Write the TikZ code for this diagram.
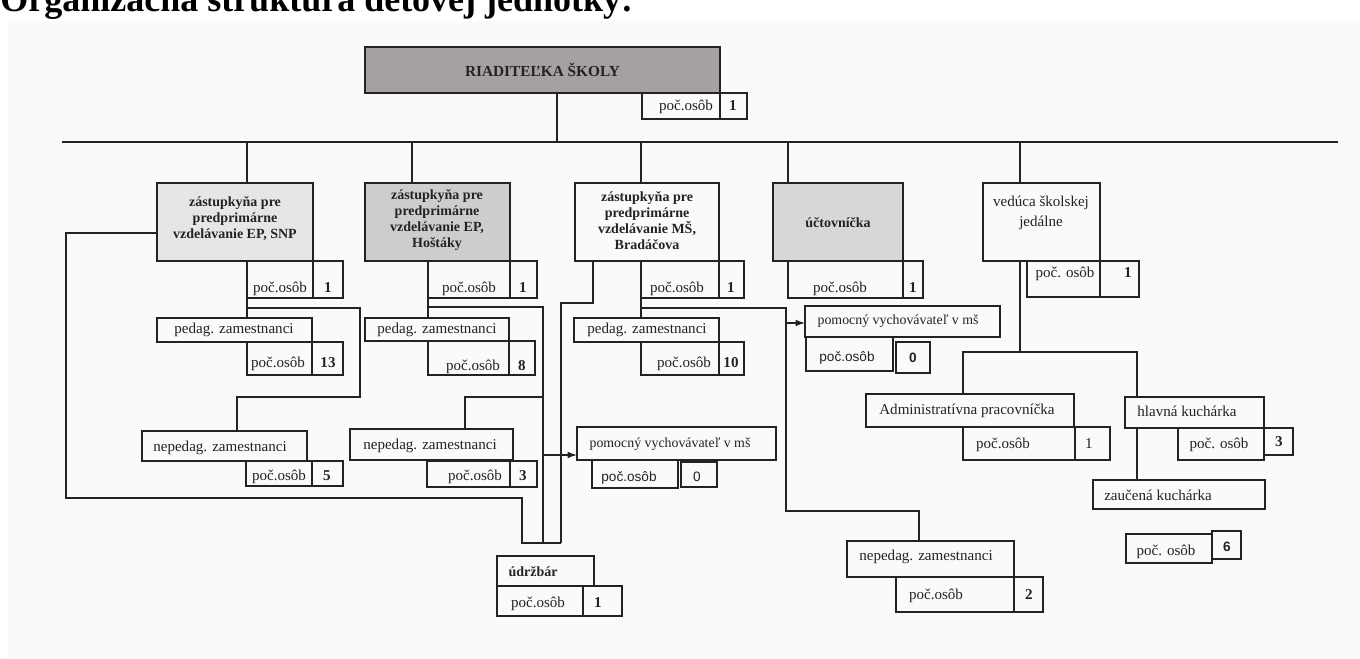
\documentclass[tikz,border=0pt]{standalone}
\usepackage{fontspec}
\setmainfont{Liberation Serif}
\newfontfamily\sansf{Liberation Sans}
\usetikzlibrary{arrows.meta}
\definecolor{ln}{RGB}{35,35,35}
\definecolor{dirg}{RGB}{165,160,162}
\definecolor{epg}{RGB}{230,230,230}
\definecolor{hosg}{RGB}{205,205,205}
\definecolor{uctg}{RGB}{215,215,215}
\definecolor{bgc}{RGB}{250,250,252}
\newcommand\rg{\fontsize{11.3}{13.5}\selectfont}
\newcommand\bd{\fontsize{10.5}{12}\selectfont\bfseries}
\newcommand\sm{\fontsize{10.2}{12}\selectfont\sansf}
\newcommand\rect[6][]{\node[rb,#1,minimum width={(#5-#3)*0.75pt},minimum height={(#6-#4)*0.75pt}] (#2) at ({(#3+#5)/2},{(#4+#6)/2}) {};}
\begin{document}
\begin{tikzpicture}[x=0.75pt,y=-0.75pt,
  rb/.style={draw=ln,line width=0.9pt,inner sep=0pt,outer sep=0pt},
  tx/.style={inner sep=0pt,anchor=base,font=\rg,text=ln},
  nb/.style={inner sep=0pt,anchor=base,font=\rg\bfseries,text=ln},
  st/.style={inner sep=0pt,anchor=base,font=\sm,text=ln},
  mt/.style={inner sep=0pt,anchor=center,align=center,font=\bd,text=ln},
  cn/.style={draw=ln,line width=0.9pt},
  ar/.style={draw=ln,line width=0.9pt,-{Latex[length=7pt,width=5pt]}}]
\useasboundingbox (0,0) rectangle (1360,659);
\clip (0,0) rectangle (1360,659);
\fill[bgc] (8,21) rectangle (1360,659);
\node[anchor=base west,inner sep=0pt,font=\fontsize{27}{27}\selectfont\bfseries] (title) at (0,12) {Organizačná štruktúra detovej jednotky:};

% director
\rect[fill=dirg]{dir}{365}{47}{720}{93}
\node[mt,font=\fontsize{11.5}{13}\selectfont\bfseries] (dir-t) at (dir.center) {RIADITEĽKA ŠKOLY};
\rect{dirL}{642}{93}{720}{119}
\rect{dirN}{720}{93}{747}{119}
\node[tx] (dirL-t) at (686,111) {poč.osôb};
\node[nb] (dirN-t) at (733,111) {1};

% row 1
\rect[fill=epg]{ep}{157}{183}{313}{261}
\node[mt] (ep-t) at (235,219) {zástupkyňa pre\\predprimárne\\vzdelávanie EP, SNP};
\rect[fill=hosg]{hos}{365}{183}{510}{261}
\node[mt] (hos-t) at (437,220) {zástupkyňa pre\\predprimárne\\vzdelávanie EP,\\Hoštáky};
\rect{ms}{575}{183}{719}{261}
\node[mt] (ms-t) at (647,221) {zástupkyňa pre\\predprimárne\\vzdelávanie MŠ,\\Bradáčova};
\rect[fill=uctg]{uct}{773}{183}{903}{261}
\node[mt] (uct-t) at (838,223) {účtovníčka};
\rect{ved}{983}{183}{1100}{261}
\node[mt,font=\fontsize{11.3}{15}\selectfont] (ved-t) at (1041,213) {vedúca školskej\\jedálne};

\rect{epL}{247}{261}{313}{298}\rect{epN}{313}{261}{343}{298}
\node[tx] (epL-t) at (280,292) {poč.osôb};\node[nb] (epN-t) at (328,292) {1};
\rect{hosL}{428}{261}{510}{298}\rect{hosN}{510}{261}{537}{298}
\node[tx] (hosL-t) at (469,292) {poč.osôb};\node[nb] (hosN-t) at (523,292) {1};
\rect{msL}{641}{261}{719}{298}\rect{msN}{719}{261}{744}{298}
\node[tx] (msL-t) at (677,292) {poč.osôb};\node[nb] (msN-t) at (731,292) {1};
\rect{uctL}{788}{261}{903}{298}\rect{uctN}{903}{261}{923}{298}
\node[tx] (uctL-t) at (840,292) {poč.osôb};\node[nb] (uctN-t) at (913,292) {1};
\rect{vedL}{1027}{261}{1100}{297}\rect{vedN}{1100}{261}{1139}{297}
\node[tx] (vedL-t) at (1065,277) {poč. osôb};\node[nb] (vedN-t) at (1128,277) {1};

% row 2
\rect{epP}{157}{318}{312}{342}
\node[tx] (epP-t) at (234,334) {pedag. zamestnanci};
\rect{epPL}{247}{342}{312}{375}\rect{epPN}{312}{342}{343}{375}
\node[tx] (epPL-t) at (278,367) {poč.osôb};\node[nb] (epPN-t) at (328,367) {13};
\rect{hosP}{365}{318}{509}{341}
\node[tx] (hosP-t) at (437,334) {pedag. zamestnanci};
\rect{hosPL}{428}{341}{509}{375}\rect{hosPN}{509}{341}{535}{375}
\node[tx] (hosPL-t) at (473,370) {poč.osôb};\node[nb] (hosPN-t) at (522,370) {8};
\rect{msP}{574}{318}{719}{342}
\node[tx] (msP-t) at (647,334) {pedag. zamestnanci};
\rect{msPL}{641}{342}{719}{375}\rect{msPN}{719}{342}{744}{375}
\node[tx] (msPL-t) at (684,367) {poč.osôb};\node[nb] (msPN-t) at (731,367) {10};

% row 3
\rect{epNP}{142}{431}{307}{461}
\node[tx] (epNP-t) at (220,451) {nepedag. zamestnanci};
\rect{epNPL}{246}{461}{312}{486}\rect{epNPN}{312}{461}{343}{486}
\node[tx] (epNPL-t) at (279,480) {poč.osôb};\node[nb] (epNPN-t) at (327,480) {5};
\rect{hosNP}{350}{429}{513}{460}
\node[tx] (hosNP-t) at (430,449) {nepedag. zamestnanci};
\rect{hosNPL}{427}{461}{510}{487}\rect{hosNPN}{510}{461}{537}{487}
\node[tx] (hosNPL-t) at (475,480) {poč.osôb};\node[nb] (hosNPN-t) at (523,480) {3};

% pomocny 2
\rect{pom2}{577}{427}{776}{460}
\node[tx,font=\fontsize{10.4}{12}\selectfont] (pom2-t) at (670,447) {pomocný vychovávateľ v mš};
\rect{pom2L}{592}{460}{678}{488}
\node[st] (pom2L-t) at (629,481) {poč.osôb};
\rect{pom2N}{681}{462}{717}{487}
\node[st] (pom2N-t) at (697,481) {0};

% udrzbar
\rect{ud}{497}{556}{594}{586}
\node[tx,font=\bd] (ud-t) at (533,576) {údržbár};
\rect{udL}{497}{586}{583}{616}\rect{udN}{583}{586}{622}{616}
\node[tx] (udL-t) at (538,607) {poč.osôb};\node[nb] (udN-t) at (598,607) {1};

% pomocny 1
\rect{pom1}{805}{306}{1000}{337}
\node[tx,font=\fontsize{10.4}{12}\selectfont] (pom1-t) at (898,325) {pomocný vychovávateľ v mš};
\rect{pom1L}{806}{337}{893}{371}
\node[st] (pom1L-t) at (847,361) {poč.osôb};
\rect{pom1N}{896}{342}{930}{373}
\node[st,font=\sm\bfseries] (pom1N-t) at (913,363) {0};

% MS nepedag
\rect{msNP}{847}{541}{1014}{577}
\node[tx] (msNP-t) at (926,560) {nepedag. zamestnanci};
\rect{msNPL}{896}{577}{1014}{612}\rect{msNPN}{1014}{577}{1043}{612}
\node[tx] (msNPL-t) at (936,599) {poč.osôb};\node[nb] (msNPN-t) at (1029,599) {2};

% jedalen
\rect{adm}{866}{394}{1074}{427}
\node[tx] (adm-t) at (967,414) {Administratívna pracovníčka};
\rect{admL}{963}{427}{1075}{460}\rect{admN}{1075}{427}{1110}{460}
\node[tx] (admL-t) at (1003,448) {poč.osôb};\node[tx] (admN-t) at (1089,448) {1};
\rect{hk}{1125}{397}{1264}{428}
\node[tx] (hk-t) at (1187,416) {hlavná kuchárka};
\rect{hkL}{1178}{428}{1264}{460}\rect{hkN}{1264}{428}{1293}{455}
\node[tx] (hkL-t) at (1219,448) {poč. osôb};\node[nb] (hkN-t) at (1279,446) {3};
\rect{zk}{1093}{480}{1265}{509}
\node[tx] (zk-t) at (1158,500) {zaučená kuchárka};
\rect{zkL}{1126}{534}{1212}{563}\rect{zkN}{1212}{531}{1241}{559}
\node[tx] (zkL-t) at (1166,555) {poč. osôb};\node[st,font=\sm\bfseries] (zkN-t) at (1227,551) {6};

% connectors
\coordinate (busL) at (62,142);
\coordinate (busR) at (1338,142);
\draw[cn] (busL) -- (busR);
\draw[cn] (dir.south -| 557,0) -- (557,142);
\foreach \n/\x in {ep/247,hos/412,ms/641,uct/788,ved/1020}
  \draw[cn] (\x,142) -- (\n.north -| \x,0);
% EP
\draw[cn] (epL.south west) -- (epP.north -| epL.south west);
\draw[cn] (247,308) -| (360,397) -| (epNP.north -| 237,0);
\draw[cn] (ep.west |- 0,233) -| (66,498) -| (522,543) -- (561,543);
% Hostaky
\draw[cn] (hosL.south west) -- (hosP.north -| hosL.south west);
\draw[cn] (428,307) -| (543,543);
\draw[cn] (hosNP.north -| 465,0) |- (543,397);
\draw[cn] (ms.south -| 593,0) |- (561,303) -- (561,543);
\draw[ar] (543,455) -- (pom2.west |- 0,455);
% MS
\draw[cn] (msL.south west) -- (msP.north -| msL.south west);
\draw[cn] (641,308) -| (786,511) -| (msNP.north -| 919,0);
\draw[ar] (786,323) -- (pom1.west |- 0,323);
% jedalen
\draw[cn] (ved.south -| 1020,0) -- (1020,352);
\draw[cn] (adm.north -| 963,0) |- (1137,352) -- (hk.north -| 1137,0);
\draw[cn] (hk.south -| 1137,0) -- (zk.north -| 1137,0);
\end{tikzpicture}
\end{document}
